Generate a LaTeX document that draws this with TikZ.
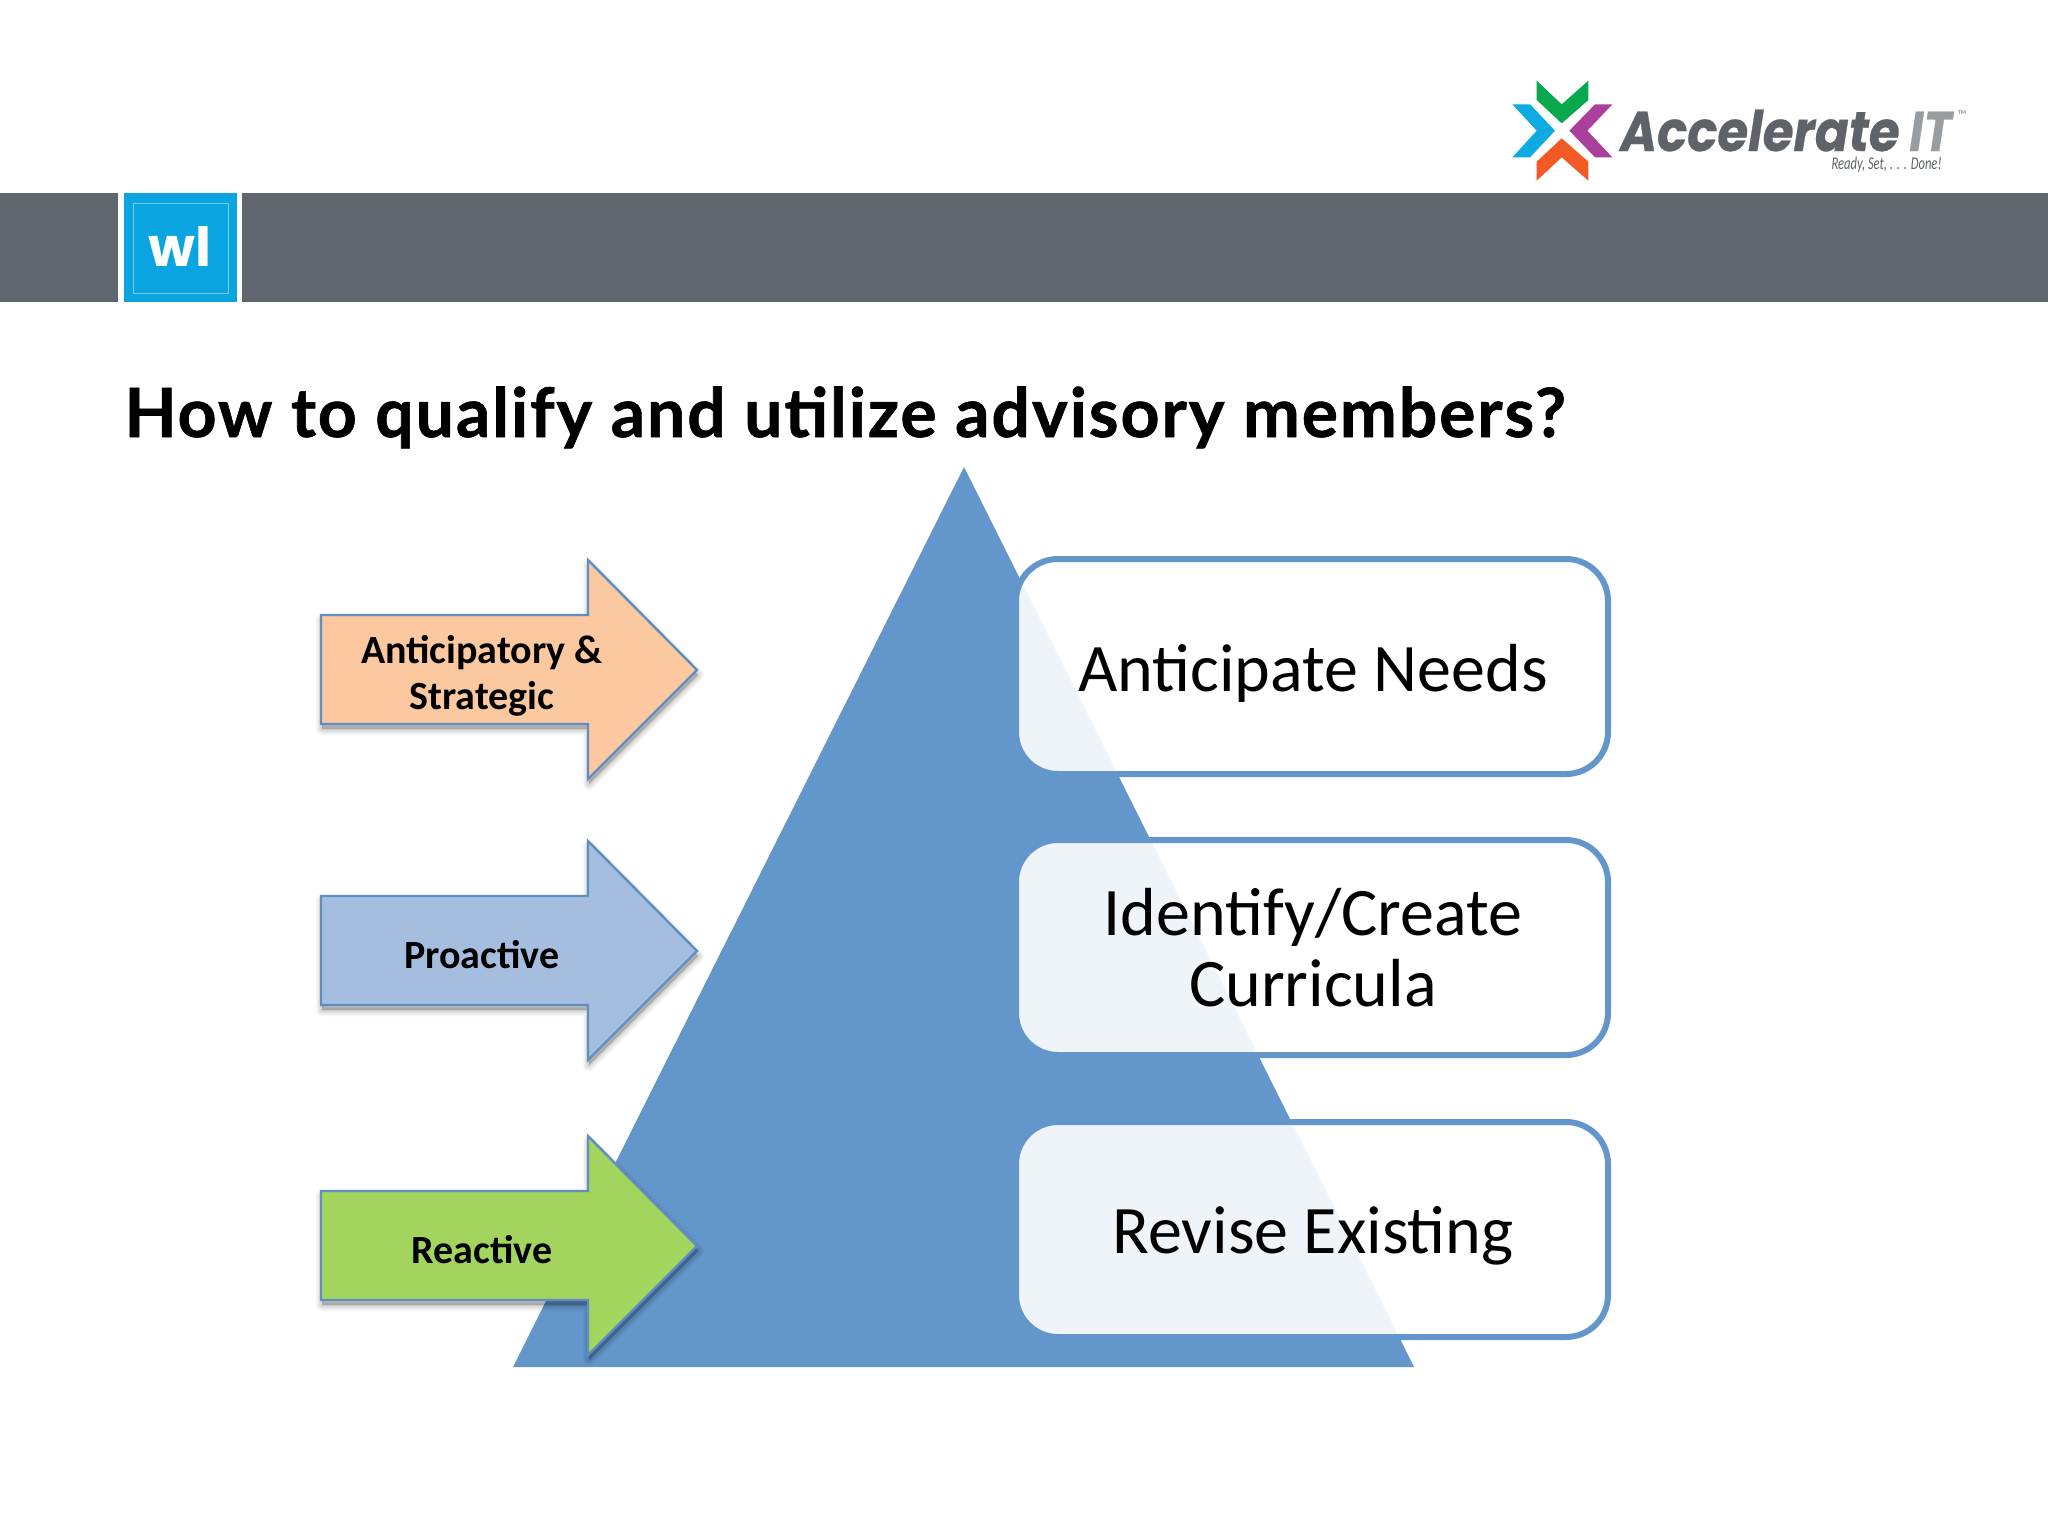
\documentclass[tikz,border=0pt]{standalone}
\usepackage{fontspec}
\setmainfont{Carlito}
\newfontfamily\titlefont[LetterSpace=2.7,FakeBold=0.9]{Lato}
\newfontfamily\logofont{Poppins}
\newfontfamily\logoheavy[FakeBold=0.5]{Poppins}
\definecolor{barGrey}{HTML}{5F666D}
\definecolor{wlBlue}{HTML}{0AA5E1}
\definecolor{triBlue}{HTML}{6396CB}
\definecolor{edgeBlue}{HTML}{5F8FC0}
\definecolor{peach}{HTML}{FBC8A0}
\definecolor{sky}{HTML}{A5BEE0}
\definecolor{leaf}{HTML}{A2D45E}
\definecolor{logoGreen}{HTML}{08A84E}
\definecolor{logoCyan}{HTML}{0EAAE2}
\definecolor{logoPurple}{HTML}{AB3F9C}
\definecolor{logoOrange}{HTML}{F15A24}
\definecolor{logoGrey}{HTML}{5D6369}
\definecolor{logoLight}{HTML}{9A9DA0}
\tikzset{
  arrowfill/.style={draw=edgeBlue,line width=1.2pt,line join=miter,fill=#1},
  arrowlabel/.style={font=\bfseries\fontsize{20}{23}\selectfont,align=center,text=black,inner sep=0pt},
  stagebox/.style={draw=triBlue,line width=3pt,fill=white,fill opacity=.9,draw opacity=1,
    rounded corners=21pt,minimum width=296pt,minimum height=107.5pt,inner sep=0pt},
  stagetext/.style={inner sep=0pt,align=center,font=\fontsize{34}{35.5}\selectfont,text=black},
}
\newcommand{\ArrowShape}[2]{% y offset, options
  \foreach \ss in {1,...,9}{
    \fill[black,opacity=.022,line join=round,draw=black,line width=\ss*0.7pt,draw opacity=.018]
      (321+1,615+#1+5) -- (588+1,615+#1+5) -- (588+1,560+#1+5) -- (697+1,670+#1+5) -- (588+1,779+#1+5) -- (588+1,724+#1+5) -- (321+1,724+#1+5) -- cycle;
  }
  \draw[#2] (321,615+#1) -- (588,615+#1) -- (588,560+#1) -- (697,670+#1) -- (588,779+#1) -- (588,724+#1) -- (321,724+#1) -- cycle;
}
\begin{document}
\begin{tikzpicture}[x=0.5pt,y=-0.5pt]
\useasboundingbox (0,0) rectangle (2048,1536);
\fill[white] (0,0) rectangle (2048,1536);
% header bar
\fill[barGrey] (0,193) rectangle (118,302);
\fill[barGrey] (242,193) rectangle (2048,302);
\fill[wlBlue] (124,193) rectangle (237,302);
\draw[white,opacity=.45,line width=.5pt] (133,203) rectangle (228,293);
\node[inner sep=0pt,anchor=base,text=white,font=\logofont\bfseries\fontsize{27}{30}\selectfont] (wl) at (180,266) {wl};
% logo
\begin{scope}[shift={(1480,60)},x=0.1667pt,y=-0.1667pt]
\fill[logoGreen] (170,62) -- (245,133) -- (325,62) -- (325,120) -- (245,190) -- (170,120) -- cycle;
\fill[logoCyan] (97,133) -- (150,133) -- (225,212) -- (150,292) -- (97,292) -- (170,212) -- cycle;
\fill[logoPurple] (397,133) -- (345,133) -- (268,212) -- (345,292) -- (397,292) -- (322,212) -- cycle;
\fill[logoOrange] (170,362) -- (170,305) -- (245,235) -- (325,305) -- (325,362) -- (245,292) -- cycle;
\end{scope}
\node[inner sep=0pt,anchor=base west,text=logoGrey,font=\logoheavy\bfseries\itshape\fontsize{28}{30}\selectfont] (acc) at (1620,151) {\scalebox{.89}[1]{Accelerate}};
\node[inner sep=0pt,anchor=base west,text=logoLight,font=\logoheavy\bfseries\itshape\fontsize{28}{30}\selectfont] (it) at (1909,151) {\scalebox{.85}[1]{IT}};
\node[inner sep=0pt,anchor=center,text=logoGrey,font=\fontsize{3}{3}\selectfont] (tm) at (1962,113) {TM};
\node[inner sep=0pt,anchor=base east,text=logoGrey,font=\itshape\fontsize{9}{10}\selectfont] (tag) at (1942,169) {\scalebox{.7}[1]{Ready, Set, . . . Done!}};
% title
\node[inner sep=0pt,anchor=base west,text=black,font=\titlefont\bfseries\fontsize{34}{38}\selectfont] (title) at (124,437) {How to qualify and utilize advisory members?};
% pyramid
\fill[triBlue] (964,467) -- (1414,1367) -- (513,1367) -- cycle;
% arrows
\ArrowShape{0}{arrowfill=peach}
\ArrowShape{281}{arrowfill=sky}
\ArrowShape{576}{arrowfill=leaf}
\node[arrowlabel] (lab1) at (482,676) {Anticipatory \&\\Strategic};
\node[arrowlabel] (lab2) at (482,955) {Proactive};
\node[arrowlabel] (lab3) at (482,1250) {Reactive};
% boxes
\node[stagebox] (box1) at (1312,666.5) {};
\node[stagebox] (box2) at (1312,947.5) {};
\node[stagebox] (box3) at (1312,1229.5) {};
\node[stagetext] (txt1) at (1313,673) {Anticipate Needs};
\node[stagetext] (txt2) at (1313,947.5) {Identify/Create\\Curricula};
\node[stagetext] (txt3) at (1313,1236) {Revise Existing};
\end{tikzpicture}
\end{document}
